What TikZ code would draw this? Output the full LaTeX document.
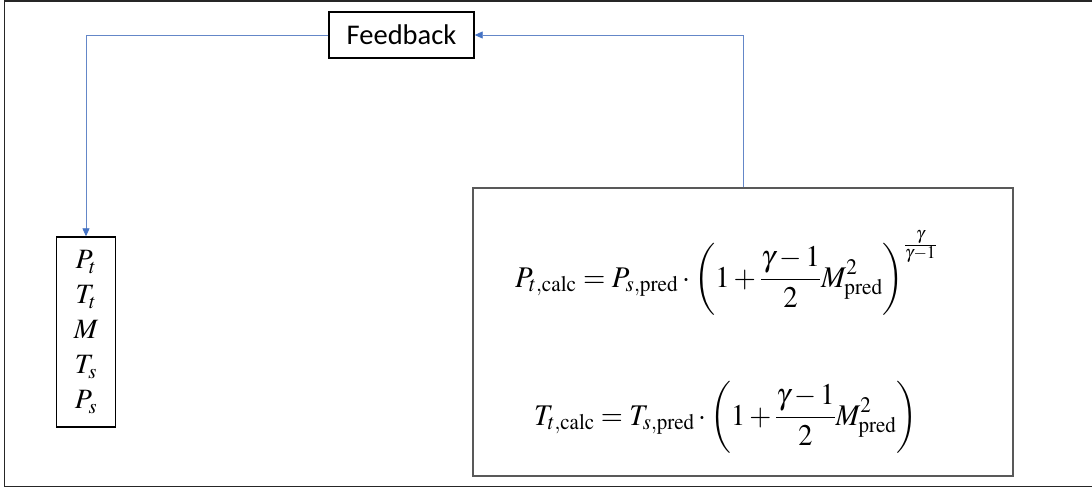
\documentclass[tikz,border=0pt]{standalone}
\usepackage{mathptmx}
\usepackage[no-math]{fontspec}
\usepackage{graphicx}
\usetikzlibrary{arrows.meta}
\newfontfamily\calib{Carlito}
\definecolor{linkblue}{RGB}{100,135,200}
\definecolor{tipblue}{RGB}{68,114,196}
\newcommand{\tallparen}{\vcenter to 75pt{}}
\newcommand{\eqfont}{\fontsize{30}{36}\selectfont}
\tikzset{
  plainbox/.style={draw=black, line width=1.4pt, inner sep=0pt},
  eqbox/.style={draw=black!65, line width=1.2pt, inner sep=0pt},
  link/.style={draw=linkblue, line width=0.8pt, -{Triangle[length=8pt,width=7pt,fill=tipblue,color=tipblue]}},
  eqtext/.style={inner sep=0pt, anchor=base west}
}
\begin{document}
\begin{tikzpicture}[x=1pt,y=-1pt]
\useasboundingbox (0,0) rectangle (1092,488);
\draw[line width=1.5pt, black!85] (1092,0.75) -- (4.5,0.75) -- (4.5,486.5) -- (1092,486.5);

\node[plainbox, minimum width=145pt, minimum height=46pt, font=\calib\fontsize{28.5}{34}\selectfont] (fb) at (401.5,35) {Feedback};

\node[plainbox, minimum width=59pt, minimum height=190pt, align=center, font=\fontsize{28}{35}\selectfont] (vars) at (86,332) {$P_t$\\$T_t$\\$M$\\$T_s$\\$P_s$};

\node[eqbox, minimum width=540pt, minimum height=288pt] (eqs) at (743,332) {};

\node[eqtext] (eq1) at (515,287) {\resizebox{422pt}{\height}{\eqfont$\displaystyle P_{t,\mathrm{calc}} = P_{s,\mathrm{pred}} \cdot \left(\tallparen 1+\frac{\gamma-1}{2}M_{\mathrm{pred}}^{2}\right)^{\frac{\gamma}{\gamma-1}}$}};
\node[eqtext] (eq2) at (534,425) {\resizebox{383pt}{\height}{\eqfont$\displaystyle T_{t,\mathrm{calc}} = T_{s,\mathrm{pred}} \cdot \left(\tallparen 1+\frac{\gamma-1}{2}M_{\mathrm{pred}}^{2}\right)$}};

\draw[link] (fb.west) -| (vars.north);
\draw[link] (eqs.north) |- (fb.east);
\end{tikzpicture}
\end{document}
